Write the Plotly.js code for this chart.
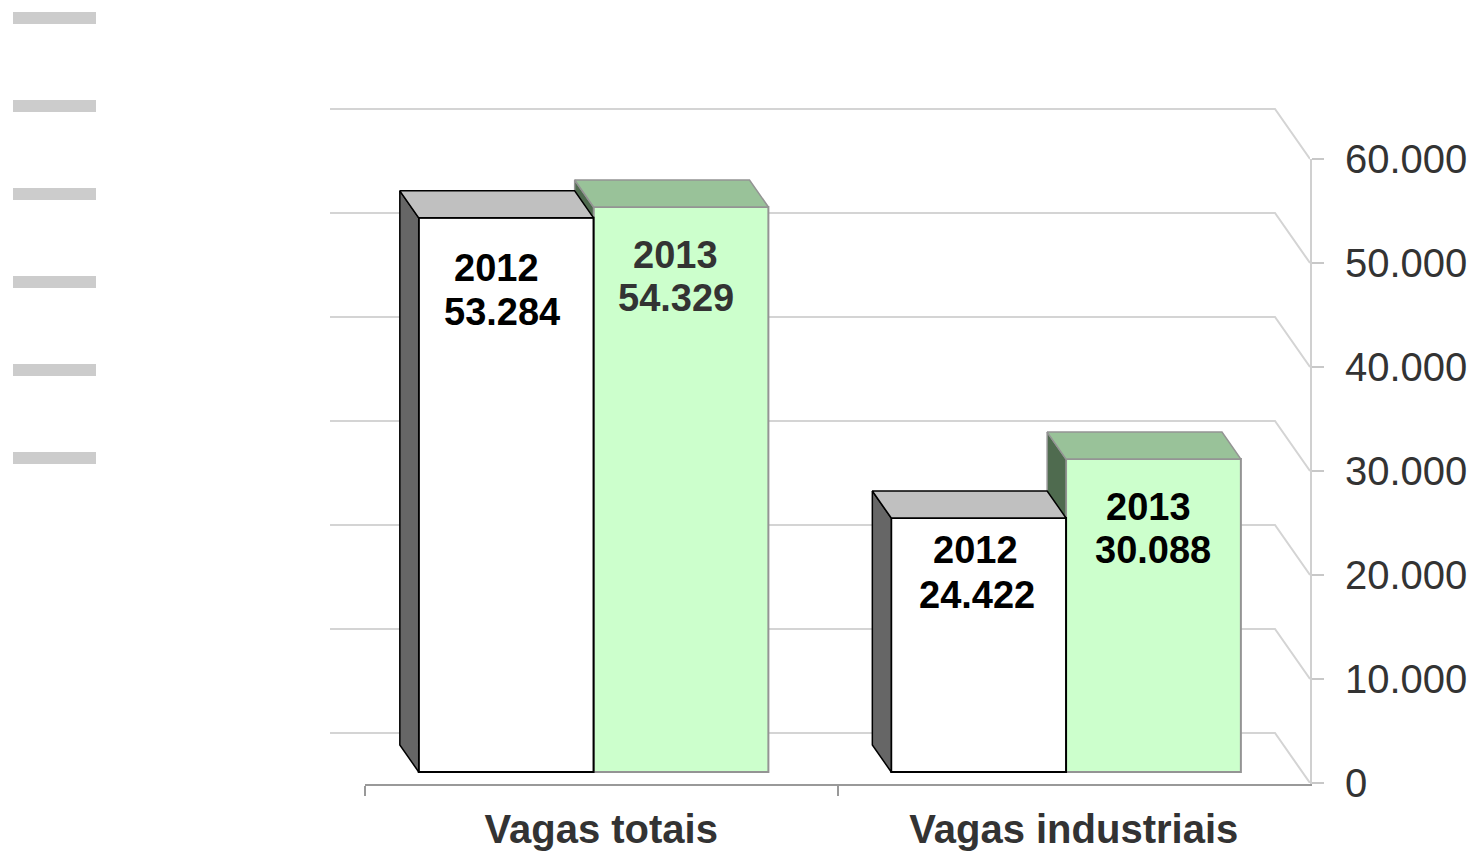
<!DOCTYPE html>
<html><head><meta charset="utf-8">
<script src="https://cdn.plot.ly/plotly-3.0.1.min.js"></script>
<style>html,body{margin:0;padding:0;background:#fff}#chart{width:1474px;height:853px}</style>
</head><body><div id="chart"></div>
<script>
// ---------- data ----------
const CATEGORIES = ['Vagas totais', 'Vagas industriais'];
const SERIES_NAMES = ['2012', '2013'];
const VALUES_2012 = [53284, 24422];
const VALUES_2013 = [54329, 30088];
const Y_TICK_VALUES = [0, 10000, 20000, 30000, 40000, 50000, 60000];
const Y_TICK_LABELS = ['0', '10.000', '20.000', '30.000', '40.000', '50.000', '60.000'];

// ---------- geometry / style ----------
const W = 1474, H = 853;
const FRONT_L = 365, FRONT_R = 1310, FRONT_ZERO = 783, FRONT_TOP = 159;
const PX_PER_UNIT = 0.0104;
const DEPTH_DX = -35, DEPTH_DY = -50;
const PX_PER_CAT = (FRONT_R - FRONT_L) / 2;
const DXu = DEPTH_DX / PX_PER_CAT;
const DYu = -DEPTH_DY / PX_PER_UNIT;
const P_LEFT = FRONT_L + DEPTH_DX, P_TOP = 90;
const BAR_Z = 0.22, BAR_DEPTH = 0.54, BAR_W = 0.37;
const FONT = 'Liberation Sans, Arial, sans-serif';

const STYLE = [
  { front: '#ffffff', side: '#666666', top: '#c0c0c0', edge: '#000000', offset: -BAR_W, labelColor: ['#000000', '#000000'],
    labelShift: [[[-10, 50], [-4, 94]], [[-3, 32], [-2, 77]]] },
  { front: '#ccffcc', side: '#4f6b4f', top: '#99c299', edge: '#949494', offset: 0, labelColor: ['#333333', '#000000'],
    labelShift: [[[-5, 48], [-5, 91]], [[-5, 48], [0, 91]]] }
];

function px(x) { return x / W; }
function py(y) { return 1 - y / H; }
function proj(x, v, z) { return [x + z * DXu, v + z * DYu]; }
function fmt(v) { return String(v).replace(/\B(?=(\d{3})+(?!\d))/g, '.'); }

const X_RANGE = [-0.5 + DXu, 1.5];
const Y_RANGE = [0, (FRONT_ZERO - P_TOP) / PX_PER_UNIT];

const traces = [];

// back wall gridlines with the diagonal down to the front axis
const wallX = [], wallY = [];
Y_TICK_VALUES.forEach(v => {
  const a = proj(-0.5, v, 1), b = proj(1.5, v, 1), c = proj(1.5, v, 0);
  wallX.push(a[0], b[0], c[0], null);
  wallY.push(a[1], b[1], c[1], null);
});
traces.push({ type: 'scatter', mode: 'lines', x: wallX, y: wallY, xaxis: 'x', yaxis: 'y',
  line: { color: '#d4d4d4', width: 2 }, hoverinfo: 'skip', showlegend: false });

// invisible trace to register categories on the front axis
traces.push({ type: 'scatter', mode: 'markers', x: CATEGORIES, y: [0, 0], xaxis: 'x2', yaxis: 'y2',
  marker: { opacity: 0 }, hoverinfo: 'skip', showlegend: false });

const SERIES = [VALUES_2012, VALUES_2013];
const annotations = [];
// draw 2013 first (behind), then 2012
[1, 0].forEach((s, k) => {
  const vals = SERIES[s], st = STYLE[s];
  const xa = k === 0 ? 'x3' : 'x4', ya = k === 0 ? 'y3' : 'y4';
  traces.push({ type: 'bar', name: SERIES_NAMES[s], xaxis: xa, yaxis: ya,
    x: vals.map((v, c) => c + BAR_Z * DXu), y: vals, base: BAR_Z * DYu,
    width: BAR_W, offset: st.offset,
    marker: { color: st.front, line: { color: st.edge, width: 2 } },
    hoverinfo: 'skip', showlegend: false });
  const sx = [], sy = [], tx = [], ty = [];
  vals.forEach((v, c) => {
    const xl = c + st.offset, xr = xl + BAR_W;
    const z0 = BAR_Z, z1 = BAR_Z + BAR_DEPTH;
    [proj(xl, 0, z0), proj(xl, v, z0), proj(xl, v, z1), proj(xl, 0, z1), proj(xl, 0, z0)].forEach(p => { sx.push(p[0]); sy.push(p[1]); });
    sx.push(null); sy.push(null);
    [proj(xl, v, z0), proj(xr, v, z0), proj(xr, v, z1), proj(xl, v, z1), proj(xl, v, z0)].forEach(p => { tx.push(p[0]); ty.push(p[1]); });
    tx.push(null); ty.push(null);
    // labels
    const cx = proj(xl + BAR_W / 2, v, z0);
    [SERIES_NAMES[s], fmt(v)].forEach((txt, li) => {
      const sh = st.labelShift[c][li];
      annotations.push({ xref: 'x', yref: 'y', x: cx[0], y: cx[1], text: '<b>' + txt + '</b>',
        showarrow: false, xanchor: 'center', yanchor: 'middle', xshift: sh[0], yshift: -sh[1],
        font: { family: FONT, size: 38, color: st.labelColor[c] } });
    });
  });
  traces.push({ type: 'scatter', mode: 'lines', x: sx, y: sy, xaxis: xa, yaxis: ya, fill: 'toself',
    fillcolor: st.side, line: { color: st.edge, width: 1.5 }, hoverinfo: 'skip', showlegend: false });
  traces.push({ type: 'scatter', mode: 'lines', x: tx, y: ty, xaxis: xa, yaxis: ya, fill: 'toself',
    fillcolor: st.top, line: { color: st.edge, width: 1.5 }, hoverinfo: 'skip', showlegend: false });
});

// decorative legend placeholders at left
const shapes = [];
[18, 106, 194, 282, 370, 458].forEach(yc => {
  shapes.push({ type: 'rect', xref: 'paper', yref: 'paper', x0: px(13), x1: px(96), y0: py(yc + 6), y1: py(yc - 6),
    fillcolor: '#cccccc', line: { width: 0 }, layer: 'below' });
});

const hidden = { visible: false, fixedrange: true };
const layout = {
  width: W, height: H, margin: { l: 0, r: 0, t: 0, b: 0 },
  paper_bgcolor: '#ffffff', plot_bgcolor: 'rgba(0,0,0,0)', showlegend: false,
  font: { family: FONT },
  xaxis: Object.assign({ domain: [px(P_LEFT), px(FRONT_R)], range: X_RANGE, anchor: 'y' }, hidden),
  yaxis: Object.assign({ domain: [py(FRONT_ZERO), py(P_TOP)], range: Y_RANGE, anchor: 'x' }, hidden),
  xaxis3: Object.assign({ overlaying: 'x', range: X_RANGE, anchor: 'y3' }, hidden),
  yaxis3: Object.assign({ overlaying: 'y', range: Y_RANGE, anchor: 'x3' }, hidden),
  xaxis4: Object.assign({ overlaying: 'x', range: X_RANGE, anchor: 'y4' }, hidden),
  yaxis4: Object.assign({ overlaying: 'y', range: Y_RANGE, anchor: 'x4' }, hidden),
  xaxis2: {
    domain: [px(FRONT_L), px(FRONT_R)], anchor: 'y2', type: 'category',
    categoryorder: 'array', categoryarray: CATEGORIES, range: [-0.5, 1.5],
    tickson: 'boundaries', ticks: 'outside', ticklen: 10, tickwidth: 2, tickcolor: '#999999',
    showline: true, linecolor: '#999999', linewidth: 2, showgrid: false, zeroline: false,
    tickfont: { family: FONT, size: 40, color: '#333333', weight: 'bold' }, ticklabelstandoff: 9,
    fixedrange: true
  },
  yaxis2: {
    domain: [py(FRONT_ZERO + 1), py(FRONT_TOP)], anchor: 'x2', side: 'right',
    range: [-1 / PX_PER_UNIT, 60000], tickmode: 'array', tickvals: Y_TICK_VALUES, ticktext: Y_TICK_LABELS,
    ticks: 'outside', ticklen: 12, tickwidth: 2, tickcolor: '#c8c8c8',
    showline: true, linecolor: '#d0d0d0', linewidth: 2, showgrid: false, zeroline: false,
    tickfont: { family: FONT, size: 40, color: '#333333' }, ticklabelstandoff: 13,
    fixedrange: true
  },
  shapes: shapes,
  annotations: annotations
};

Plotly.newPlot('chart', traces, layout, { staticPlot: true, displayModeBar: false });
</script>
</body></html>
